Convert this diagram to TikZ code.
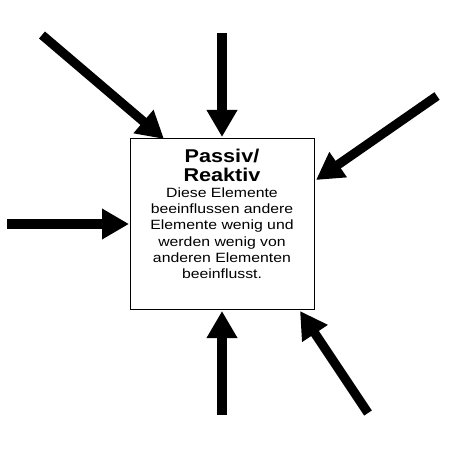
\documentclass[tikz,border=0pt]{standalone}
\usepackage{fontspec}
\setmainfont{Liberation Sans}
\newfontfamily\titlefont[FakeStretch=1.17]{Liberation Sans}
\newfontfamily\bodyfont[FakeStretch=1.18]{Liberation Sans}
\usetikzlibrary{arrows.meta}
\begin{document}
\begin{tikzpicture}[x=1pt,y=-1pt,
  bigarrow/.style={line width=9.2pt,-{Triangle[length=27pt,width=29pt]}},
  boxstyle/.style={draw,line width=1.3pt,minimum width=184pt,minimum height=171pt,inner sep=0pt,anchor=north west},
  txt/.style={anchor=north,align=center,inner sep=0pt}]
\useasboundingbox (0,0) rectangle (449,449);
\fill[white] (0,0) rectangle (449,449);
\node[boxstyle] (box) at (130,138) {};
\node[txt,font=\titlefont\fontsize{18.5}{19}\selectfont\bfseries] (title) at (222,149) {Passiv/\\Reaktiv};
\node[txt,font=\bodyfont\fontsize{13.4}{16.2}\selectfont] (body) at (222,187.5) {Diese Elemente\\beeinflussen andere\\Elemente wenig und\\werden wenig von\\anderen Elementen\\beeinflusst.};
\coordinate (s1) at (42,35);  \coordinate (t1) at (164,139);
\coordinate (s2) at (222,33); \coordinate (t2) at (222,137);
\coordinate (s3) at (437,96); \coordinate (t3) at (316,180);
\coordinate (s4) at (7,224);  \coordinate (t4) at (129,224);
\coordinate (s5) at (222,415);\coordinate (t5) at (222,311);
\coordinate (s6) at (368,413);\coordinate (t6) at (300,311);
\foreach \i in {1,...,6} \draw[bigarrow] (s\i) -- (t\i);
\end{tikzpicture}
\end{document}
